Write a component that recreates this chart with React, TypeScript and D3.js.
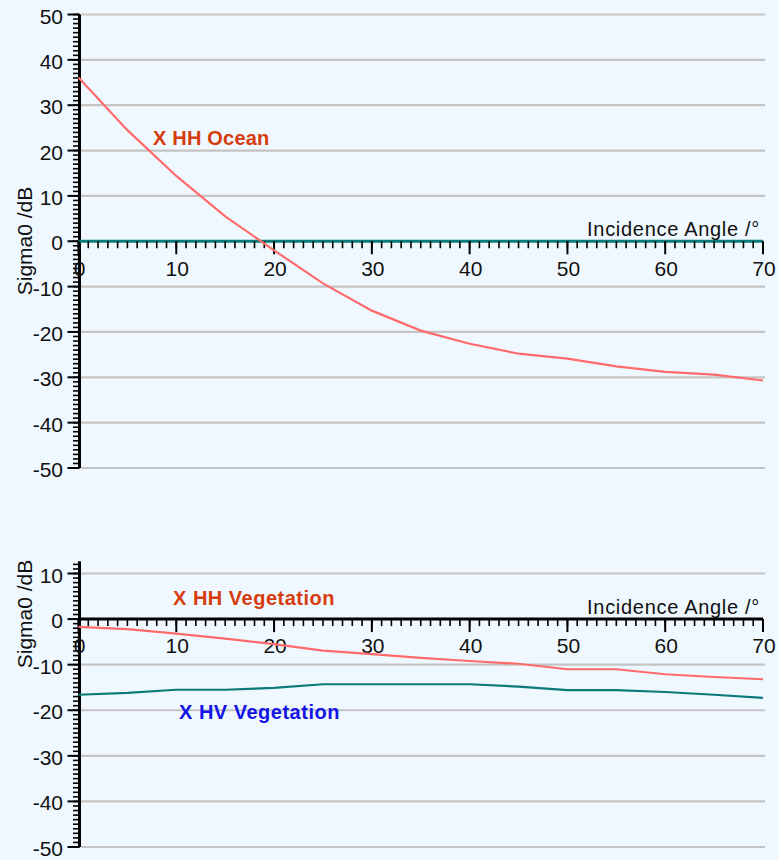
import React, { useEffect } from "react";
import * as d3 from "d3";

const angles = [0, 5, 10, 15, 20, 25, 30, 35, 40, 45, 50, 55, 60, 65, 70];
const hhOcean = [36.1, 24.5, 14.4, 5.5, -2, -9.3, -15.3, -19.7, -22.6, -24.8, -25.9, -27.6, -28.8, -29.4, -30.7];
const hhVeg = [-1.7, -2.2, -3.2, -4.3, -5.5, -6.9, -7.7, -8.5, -9.2, -9.8, -11, -11, -12.1, -12.7, -13.2];
const hvVeg = [-16.6, -16.2, -15.5, -15.5, -15.1, -14.3, -14.3, -14.3, -14.3, -14.8, -15.6, -15.6, -16, -16.6, -17.3];

const xTicks = [0, 10, 20, 30, 40, 50, 60, 70];
const yTicksTop = [50, 40, 30, 20, 10, 0, -10, -20, -30, -40, -50];
const yTicksBottom = [10, 0, -10, -20, -30, -40, -50];

const FONT = "'Liberation Sans', Arial, Helvetica, sans-serif";
const BG = "#f0f8ff";
const GRID = "#c4c4c4";
const RED = "#ff6b6b";
const TEAL = "#0a7b78";
const LABEL_RED = "#d63c0c";
const LABEL_BLUE = "#1414e6";

const x = d3.scaleLinear().domain([0, 70]).range([78.5, 763]);

interface PanelProps {
  y: d3.ScaleLinear<number, number>;
  yMax: number;
  yMin: number;
  yTicks: number[];
  axisColor: string;
  labelOffset: number;
  yLabelCenter: number;
  children?: React.ReactNode;
}

function Panel({ y, yMax, yMin, yTicks, axisColor, labelOffset, yLabelCenter, children }: PanelProps) {
  const y0 = y(0);
  const axisX = 79.5;
  const minorY = d3.range(Math.floor(yMax), yMin - 0.001, -1);
  const minorX = d3.range(0, 70.001, 1);
  return (
    <g>
      {yTicks.filter((t) => t !== 0).map((t) => (
        <line key={"g" + t} x1={81} x2={765} y1={y(t)} y2={y(t)} stroke={GRID} strokeWidth={2.2} />
      ))}
      <line x1={axisX} x2={axisX} y1={y(yMax)} y2={y(yMin)} stroke="#000" strokeWidth={3} />
      {minorY.map((t) => (
        <line key={"my" + t} x1={axisX - 6.5} x2={axisX} y1={y(t)} y2={y(t)} stroke="#000" strokeWidth={1.6} />
      ))}
      {yTicks.map((t) => (
        <line key={"My" + t} x1={axisX - 12} x2={axisX} y1={y(t)} y2={y(t)} stroke="#000" strokeWidth={2} />
      ))}
      {yTicks.map((t) => (
        <text key={"ly" + t} x={63} y={y(t) + 9} textAnchor="end" fontSize={21} fontFamily={FONT} fill="#111">
          {t}
        </text>
      ))}
      <line x1={x(0)} x2={x(70)} y1={y0} y2={y0} stroke={axisColor} strokeWidth={3} />
      {minorX.map((t) => (
        <line key={"mx" + t} x1={x(t)} x2={x(t)} y1={y0} y2={y0 + 7} stroke="#000" strokeWidth={1.6} />
      ))}
      {xTicks.map((t) => (
        <line key={"Mx" + t} x1={x(t)} x2={x(t)} y1={y0} y2={y0 + 13} stroke="#000" strokeWidth={2} />
      ))}
      {xTicks.map((t) => (
        <text key={"lx" + t} x={x(t) + 1} y={y0 + labelOffset} textAnchor="middle" fontSize={21} fontFamily={FONT} fill="#111">
          {t}
        </text>
      ))}
      <text x={760} y={y0 - 5} textAnchor="end" fontSize={20} fontFamily={FONT} fill="#111" letterSpacing={0.7}>
        Incidence Angle /°
      </text>
      <text
        transform={`translate(32,${yLabelCenter}) rotate(-90)`}
        textAnchor="middle"
        fontSize={21}
        fontFamily={FONT}
        fill="#111"
      >
        Sigma0 /dB
      </text>
      {children}
    </g>
  );
}

export default function App() {
  useEffect(() => {
    document.body.style.margin = "0";
    document.body.style.background = BG;
  }, []);

  const yTop = d3.scaleLinear().domain([50, -50]).range([14.5, 468]);
  const yBot = d3.scaleLinear().domain([10, -50]).range([573.5, 847]);

  const lineTop = d3
    .line<number>()
    .x((_, i) => x(angles[i]))
    .y((d) => yTop(d));
  const lineBot = d3
    .line<number>()
    .x((_, i) => x(angles[i]))
    .y((d) => yBot(d));

  return (
    <svg width={778} height={860} style={{ display: "block", background: BG }}>
      <rect x={0} y={0} width={778} height={860} fill={BG} />
      <Panel y={yTop} yMax={50} yMin={-50} yTicks={yTicksTop} axisColor={TEAL} labelOffset={35} yLabelCenter={241}>
        <path d={lineTop(hhOcean) || ""} fill="none" stroke={RED} strokeWidth={2.2} />
        <text x={153} y={145} fontSize={20} fontWeight="bold" fontFamily={FONT} fill={LABEL_RED} letterSpacing={0.2}>
          X HH Ocean
        </text>
      </Panel>
      <Panel y={yBot} yMax={12.7} yMin={-50} yTicks={yTicksBottom} axisColor="#000" labelOffset={34} yLabelCenter={614}>
        <path d={lineBot(hhVeg) || ""} fill="none" stroke={RED} strokeWidth={2.2} />
        <path d={lineBot(hvVeg) || ""} fill="none" stroke={TEAL} strokeWidth={2.2} />
        <text x={173} y={605} fontSize={20} fontWeight="bold" fontFamily={FONT} fill={LABEL_RED} letterSpacing={0.5}>
          X HH Vegetation
        </text>
        <text x={179} y={719} fontSize={20} fontWeight="bold" fontFamily={FONT} fill={LABEL_BLUE} letterSpacing={0.5}>
          X HV Vegetation
        </text>
      </Panel>
    </svg>
  );
}
